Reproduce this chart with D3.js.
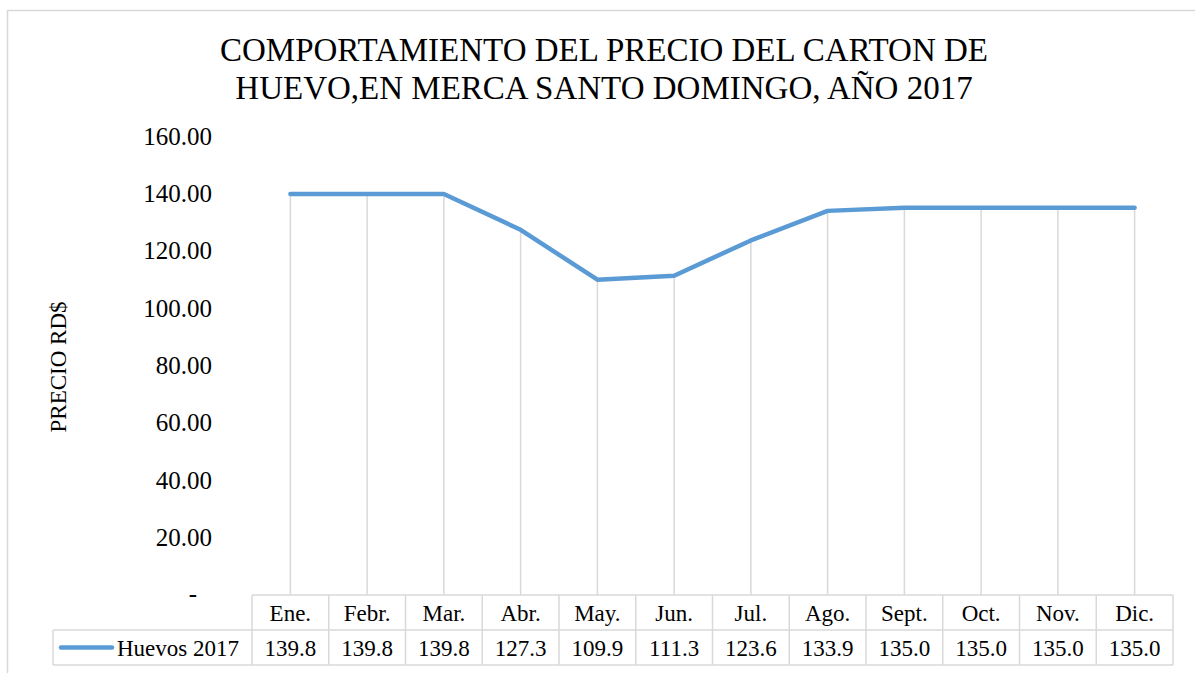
<!DOCTYPE html>
<html>
<head>
<meta charset="utf-8">
<script src="https://cdn.jsdelivr.net/npm/d3@7"></script>
<style>
  html, body { margin: 0; padding: 0; background: #fff; }
  svg text { font-family: "Liberation Serif", "Times New Roman", serif; }
</style>
</head>
<body>
<div id="chart"></div>
<script>
// Chart data
const months = ['Ene.', 'Febr.', 'Mar.', 'Abr.', 'May.', 'Jun.', 'Jul.', 'Ago.', 'Sept.', 'Oct.', 'Nov.', 'Dic.'];
const huevos2017 = [139.8, 139.8, 139.8, 127.3, 109.9, 111.3, 123.6, 133.9, 135.0, 135.0, 135.0, 135.0];
const yTicks = [0, 20, 40, 60, 80, 100, 120, 140, 160];
const seriesName = 'Huevos 2017';
const titleLines = ['COMPORTAMIENTO DEL PRECIO DEL CARTON DE', 'HUEVO,EN MERCA SANTO DOMINGO, AÑO 2017'];
const yTitle = 'PRECIO RD$';

const width = 1195, height = 673;
const serif = '"Liberation Serif", "Times New Roman", serif';
const lineColor = '#5b9bd5';
const gridColor = '#d9d9d9';

const plot = { left: 252, right: 1173, top: 136, bottom: 595 };
const tableLeft = 53, rowH = 35;

const svg = d3.select('#chart').append('svg')
    .attr('width', width)
    .attr('height', height)
    .attr('font-family', serif);

// outer chart border (runs off the right and bottom edges)
svg.append('rect')
    .attr('x', 7.5).attr('y', 10.5)
    .attr('width', 1300).attr('height', 800)
    .attr('fill', 'none')
    .attr('stroke', gridColor)
    .attr('stroke-width', 1.5);

// Title
svg.append('text')
    .attr('x', 604).attr('y', 61)
    .attr('text-anchor', 'middle')
    .attr('font-size', 33)
    .attr('fill', '#000')
    .selectAll('tspan')
    .data(titleLines)
    .join('tspan')
    .attr('x', 604)
    .attr('dy', (d, i) => i === 0 ? 0 : 38)
    .text(d => d);

// Scales
const x = d3.scaleBand().domain(months).range([plot.left, plot.right]);
const y = d3.scaleLinear().domain([0, 160]).range([plot.bottom, plot.top]);

// Y axis labels
const yAxis = d3.axisLeft(y)
    .tickValues(yTicks)
    .tickSize(0)
    .tickPadding(0)
    .tickFormat(d => d === 0 ? '-' : d3.format('.2f')(d));

const gy = svg.append('g')
    .attr('transform', `translate(212,0)`)
    .call(yAxis)
    .attr('font-family', serif);
gy.select('.domain').remove();
gy.selectAll('text')
    .attr('font-size', 25)
    .attr('fill', '#000')
    .attr('dy', '0.32em');
gy.selectAll('.tick').filter(d => d === 0).select('text')
    .attr('text-anchor', 'middle')
    .attr('x', -19)
    .attr('dy', '0.25em');

// Y axis title
svg.append('text')
    .attr('transform', `translate(66,${367}) rotate(-90)`)
    .attr('text-anchor', 'middle')
    .attr('font-size', 23)
    .attr('fill', '#000')
    .text(yTitle);

// Drop lines from each point to the category axis
const cx = d => x(d) + x.bandwidth() / 2;
svg.append('g')
    .selectAll('line')
    .data(months)
    .join('line')
    .attr('x1', d => cx(d))
    .attr('x2', d => cx(d))
    .attr('y1', (d, i) => y(huevos2017[i]))
    .attr('y2', plot.bottom)
    .attr('stroke', gridColor)
    .attr('stroke-width', 1.5);

// Series line
const line = d3.line()
    .x((d, i) => cx(months[i]))
    .y(d => y(d));

svg.append('path')
    .datum(huevos2017)
    .attr('d', line)
    .attr('fill', 'none')
    .attr('stroke', lineColor)
    .attr('stroke-width', 4.5)
    .attr('stroke-linejoin', 'round')
    .attr('stroke-linecap', 'round');

// Data table
const table = svg.append('g');
const row1 = plot.bottom, row2 = plot.bottom + rowH, row3 = plot.bottom + 2 * rowH;

const hLines = [
    { x1: plot.left, x2: plot.right, y: row1 },
    { x1: tableLeft, x2: plot.right, y: row2 },
    { x1: tableLeft, x2: plot.right, y: row3 }
];
table.selectAll('line.h')
    .data(hLines)
    .join('line')
    .attr('class', 'h')
    .attr('x1', d => d.x1).attr('x2', d => d.x2)
    .attr('y1', d => d.y).attr('y2', d => d.y)
    .attr('stroke', gridColor)
    .attr('stroke-width', 1.5);

const vEdges = months.map(m => x(m)).concat([plot.right]);
table.selectAll('line.v')
    .data(vEdges)
    .join('line')
    .attr('class', 'v')
    .attr('x1', d => d).attr('x2', d => d)
    .attr('y1', row1).attr('y2', row3)
    .attr('stroke', gridColor)
    .attr('stroke-width', 1.5);

table.append('line')
    .attr('x1', tableLeft).attr('x2', tableLeft)
    .attr('y1', row2).attr('y2', row3)
    .attr('stroke', gridColor)
    .attr('stroke-width', 1.5);

table.selectAll('text.cat')
    .data(months)
    .join('text')
    .attr('class', 'cat')
    .attr('x', d => cx(d))
    .attr('y', row1 + rowH / 2 + 8)
    .attr('text-anchor', 'middle')
    .attr('font-size', 23)
    .attr('fill', '#000')
    .text(d => d);

table.selectAll('text.val')
    .data(huevos2017)
    .join('text')
    .attr('class', 'val')
    .attr('x', (d, i) => cx(months[i]))
    .attr('y', row2 + rowH / 2 + 8)
    .attr('text-anchor', 'middle')
    .attr('font-size', 23)
    .attr('fill', '#000')
    .text(d => d3.format('.1f')(d));

// Legend key inside the table
table.append('line')
    .attr('x1', 61).attr('x2', 112)
    .attr('y1', row2 + rowH / 2).attr('y2', row2 + rowH / 2)
    .attr('stroke', lineColor)
    .attr('stroke-width', 4.5)
    .attr('stroke-linecap', 'round');

table.append('text')
    .attr('x', 117)
    .attr('y', row2 + rowH / 2 + 8)
    .attr('font-size', 23)
    .attr('fill', '#000')
    .text(seriesName);
</script>
</body>
</html>
